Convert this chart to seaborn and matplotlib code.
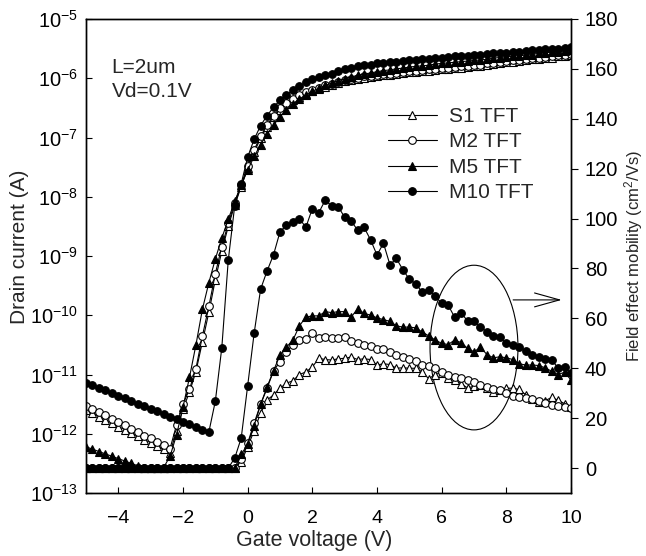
import numpy as np
import matplotlib
matplotlib.use('Agg')
import matplotlib.pyplot as plt
import seaborn as sns
from matplotlib.patches import Ellipse
from matplotlib.lines import Line2D
from matplotlib.ticker import FixedLocator, NullLocator, FuncFormatter

# ---------------- data ----------------
gate_v = np.round(np.arange(-5.0, 10.001, 0.2), 1)   # 76 samples, -5 .. 10 V

series_names = ['S1 TFT', 'M2 TFT', 'M5 TFT', 'M10 TFT']

# log10 of drain current (A)
s1_log_id = [-11.60, -11.65, -11.71, -11.76, -11.82, -11.88, -11.93, -11.99, -12.04, -12.10,
             -12.15, -12.21, -12.26, -12.32, -11.95, -11.58, -11.30, -10.95, -10.45, -9.95,
             -9.40, -8.92, -8.50, -8.14, -7.83, -7.52, -7.25, -7.01, -6.82, -6.66,
             -6.53, -6.44, -6.37, -6.31, -6.26, -6.22, -6.18, -6.14, -6.11, -6.08,
             -6.05, -6.03, -6.01, -5.99, -5.98, -5.96, -5.95, -5.94, -5.93, -5.91,
             -5.90, -5.89, -5.88, -5.87, -5.86, -5.85, -5.84, -5.83, -5.82, -5.81,
             -5.80, -5.79, -5.77, -5.76, -5.74, -5.73, -5.72, -5.71, -5.70, -5.68,
             -5.67, -5.66, -5.65, -5.63, -5.62, -5.61]
m2_log_id = [-11.53, -11.58, -11.64, -11.69, -11.75, -11.81, -11.86, -11.92, -11.97, -12.03,
             -12.08, -12.14, -12.19, -12.25, -11.85, -11.50, -11.25, -10.90, -10.35, -9.85,
             -9.30, -8.84, -8.45, -8.10, -7.80, -7.48, -7.21, -6.98, -6.79, -6.63,
             -6.50, -6.42, -6.35, -6.29, -6.24, -6.20, -6.16, -6.12, -6.09, -6.06,
             -6.03, -6.01, -5.99, -5.97, -5.96, -5.94, -5.93, -5.92, -5.91, -5.89,
             -5.88, -5.87, -5.86, -5.85, -5.84, -5.83, -5.82, -5.81, -5.80, -5.79,
             -5.78, -5.77, -5.75, -5.74, -5.72, -5.71, -5.70, -5.69, -5.68, -5.66,
             -5.65, -5.64, -5.63, -5.61, -5.60, -5.59]
m5_log_id = [-12.22, -12.26, -12.30, -12.34, -12.38, -12.42, -12.46, -12.50, -12.54, -12.57,
             -12.58, -12.58, -12.57, -12.38, -12.02, -11.55, -11.05, -10.50, -9.90, -9.45,
             -9.05, -8.70, -8.38, -8.08, -7.80, -7.55, -7.32, -7.12, -6.94, -6.79,
             -6.65, -6.53, -6.43, -6.35, -6.28, -6.22, -6.17, -6.12, -6.08, -6.04,
             -6.01, -5.98, -5.95, -5.93, -5.91, -5.89, -5.87, -5.86, -5.84, -5.83,
             -5.81, -5.80, -5.79, -5.78, -5.76, -5.75, -5.74, -5.73, -5.72, -5.71,
             -5.70, -5.69, -5.68, -5.66, -5.65, -5.64, -5.63, -5.62, -5.61, -5.60,
             -5.58, -5.57, -5.56, -5.55, -5.54, -5.53]
m10_log_id = [-11.14, -11.18, -11.23, -11.27, -11.32, -11.36, -11.40, -11.45, -11.49, -11.54,
              -11.58, -11.62, -11.67, -11.71, -11.75, -11.80, -11.84, -11.88, -11.93, -11.97,
              -11.45, -10.55, -9.07, -8.15, -7.78, -7.33, -7.03, -6.80, -6.63, -6.49,
              -6.37, -6.28, -6.20, -6.13, -6.07, -6.02, -5.98, -5.95, -5.92, -5.88,
              -5.85, -5.83, -5.80, -5.78, -5.77, -5.75, -5.74, -5.73, -5.72, -5.71,
              -5.70, -5.69, -5.68, -5.67, -5.66, -5.65, -5.64, -5.63, -5.62, -5.62,
              -5.61, -5.60, -5.59, -5.58, -5.58, -5.57, -5.56, -5.55, -5.54, -5.53,
              -5.52, -5.51, -5.50, -5.50, -5.49, -5.48]

# field effect mobility (cm2/Vs)
s1_mob = [0, 0, 0, 0, 0, 0, 0, 0, 0, 0,
          0, 0, 0, 0, 0, 0, 0, 0, 0, 0,
          0, 0, 0, 0, 2.5, 8.5, 15, 22, 27.3, 29.3,
          32, 34, 35, 37.5, 38.5, 40.5, 44, 43.5, 43.3, 43.8,
          44, 44.5, 43.5, 43.8, 43.5, 41.3, 41.8, 41.5, 40, 40.2,
          40, 40, 38.5, 35.8, 37.5, 38.3, 36.2, 35.2, 33.8, 32.1,
          32.8, 33.2, 32, 30.6, 31.3, 32, 32, 31.5, 29.4, 27.6,
          26.5, 27.0, 28.3, 27.2, 25.8, 24.6]
m2_mob = [0, 0, 0, 0, 0, 0, 0, 0, 0, 0,
          0, 0, 0, 0, 0, 0, 0, 0, 0, 0,
          0, 0, 0, 0, 3.5, 10, 18, 25.5, 32, 39,
          42.6, 46.5, 49.5, 51.2, 51.8, 54.3, 52, 52.7, 52.3, 52.2,
          52.4, 51, 50.2, 49.4, 48.8, 47.7, 47.6, 46.4, 45.2, 44.5,
          43.7, 42.8, 41.5, 40.8, 40.0, 38.5, 37.2, 36.6, 36.0, 35.2,
          34.5, 33.3, 32.4, 31.8, 31.1, 29.9, 29.0, 28.4, 27.9, 27.5,
          27.0, 26.0, 25.2, 25.0, 24.5, 24.0]
m5_mob = [0, 0, 0, 0, 0, 0, 0, 0, 0, 0,
          0, 0, 0, 0, 0, 0, 0, 0, 0, 0,
          0, 0, 0, 0, 5.5, 9.5, 17, 25.5, 32.5, 39,
          45.3, 48.5, 51.3, 57, 60.5, 61, 61, 62.7, 62.3, 62.7,
          62.7, 60.5, 63.8, 62, 61.3, 60.2, 59.5, 58.8, 57, 56.5,
          56.5, 56.2, 54.5, 53.0, 51.3, 50.0, 49.5, 51.3, 50.3, 48.0,
          46.6, 48.4, 45.5, 44.2, 44.6, 44.2, 43.5, 41.8, 41.3, 41.3,
          41.1, 40.2, 38.8, 37.5, 38.4, 35.3]
m10_mob = [0, 0, 0, 0, 0, 0, 0, 0, 0, 0,
           0, 0, 0, 0, 0, 0, 0, 0, 0, 0,
           0, 0, 0, 4, 12, 33, 54, 71.7, 79, 85.5,
           94.7, 97.4, 98.5, 100, 96.5, 104, 102.4, 107.4, 105, 104.8,
           100.5, 99, 95.4, 96.5, 91.5, 85.4, 90.1, 81.5, 84, 79.5,
           75.7, 73.8, 70.5, 71.2, 69, 66.0, 65.3, 60.5, 62.2, 59,
           58.8, 56.5, 54.7, 53.0, 52.4, 50.0, 49.2, 48.6, 47, 45.5,
           44.6, 43.8, 43.3, 40.2, 40.5, 38]

x_ticks = [-4, -2, 0, 2, 4, 6, 8, 10]
left_ticks = [1e-13, 1e-12, 1e-11, 1e-10, 1e-9, 1e-8, 1e-7, 1e-6, 1e-5]
right_ticks = [0, 20, 40, 60, 80, 100, 120, 140, 160, 180]

# ---------------- style ----------------
sns.set_theme(style='ticks')
plt.rcParams['font.family'] = ['Liberation Sans', 'DejaVu Sans']
plt.rcParams['mathtext.fontset'] = 'custom'
plt.rcParams['mathtext.rm'] = 'Liberation Sans'
plt.rcParams['mathtext.it'] = 'Liberation Sans:italic'
plt.rcParams['mathtext.bf'] = 'Liberation Sans:bold'

styles = {
    'S1 TFT': dict(marker='^', markerfacecolor='white'),
    'M2 TFT': dict(marker='o', markerfacecolor='white'),
    'M5 TFT': dict(marker='^', markerfacecolor='black'),
    'M10 TFT': dict(marker='o', markerfacecolor='black'),
}
common = dict(color='black', linewidth=0.8, markeredgecolor='black',
              markeredgewidth=0.8, markersize=5.5)

fig = plt.figure(figsize=(6.46, 5.56), dpi=100)
W, H = 646.0, 556.0
ax = fig.add_axes([86 / W, 1 - 493 / H, (571 - 86) / W, (493 - 19) / H])
ax.set_yscale('log')
ax.set_xlim(-5, 10)
ax.set_ylim(1e-13, 1e-5)
ax2 = ax.twinx()
ax2.set_ylim(-10, 180)

currents = [s1_log_id, m2_log_id, m5_log_id, m10_log_id]
mobilities = [s1_mob, m2_mob, m5_mob, m10_mob]

for name, lid, mob in zip(series_names, currents, mobilities):
    st = dict(common, **styles[name])
    sns.lineplot(x=gate_v, y=np.power(10.0, np.array(lid)), ax=ax, legend=False,
                 sort=False, estimator=None, **st)
    sns.lineplot(x=gate_v, y=np.array(mob, dtype=float), ax=ax2, legend=False,
                 sort=False, estimator=None, **st)

ax.set_xlim(-5, 10)
ax.set_ylim(1e-13, 1e-5)
ax2.set_ylim(-10, 180)

# ticks
ax.xaxis.set_major_locator(FixedLocator(x_ticks))
ax.yaxis.set_major_locator(FixedLocator(left_ticks))
ax.yaxis.set_minor_locator(NullLocator())
ax.yaxis.set_major_formatter(FuncFormatter(
    lambda v, p: r'$10^{%d}$' % int(round(np.log10(v)))))
ax2.yaxis.set_major_locator(FixedLocator(right_ticks))
ax2.yaxis.set_minor_locator(NullLocator())

ax.tick_params(axis='x', direction='in', length=4, width=0.8, pad=12,
               labelsize=14, top=False, colors='black')
ax.tick_params(axis='y', direction='in', length=4, width=0.8, pad=6,
               labelsize=14.5, right=False, colors='black')
ax2.tick_params(axis='y', direction='out', length=5, width=0.8, pad=5,
                labelsize=14.5, colors='black')

for a in (ax, ax2):
    for s in a.spines.values():
        s.set_linewidth(1.0)
        s.set_color('black')
        s.set_visible(True)

ax.set_xlabel('Gate voltage (V)', fontsize=15.5)
ax.xaxis.set_label_coords((314 - 86) / 485, -0.078)
ax.set_ylabel('Drain current (A)', fontsize=15)
ax.yaxis.set_label_coords(-0.118, 0.52)
ax2.set_ylabel('Field effect mobility (cm$^2$/Vs)', fontsize=12)
ax2.yaxis.set_label_coords(1.106, 0.5)

# annotations
ax.text(0.053, 0.897, 'L=2um', transform=ax.transAxes, fontsize=15, va='center', ha='left')
ax.text(0.053, 0.846, 'Vd=0.1V', transform=ax.transAxes, fontsize=15, va='center', ha='left')

ax2.add_patch(Ellipse((7.0, 48.3), width=2.72, height=66, fill=False,
                      edgecolor='black', linewidth=0.8))
ax2.annotate('', xy=(9.71, 67.4), xytext=(8.21, 67.4),
             arrowprops=dict(arrowstyle='->,head_length=1.8,head_width=0.5',
                             color='black', lw=0.8, mutation_scale=10,
                             shrinkA=0, shrinkB=0))

# legend
handles = [Line2D([], [], **dict(common, **styles[n])) for n in series_names]
leg = ax2.legend(handles, series_names, loc='upper left',
                 bbox_to_anchor=(388 / W, 1 - 107 / H), bbox_transform=fig.transFigure,
                 frameon=False, fontsize=15, handlelength=2.35, handletextpad=0.6,
                 labelspacing=0.31, borderpad=0, borderaxespad=0)

fig.savefig('out.png', dpi=100)
